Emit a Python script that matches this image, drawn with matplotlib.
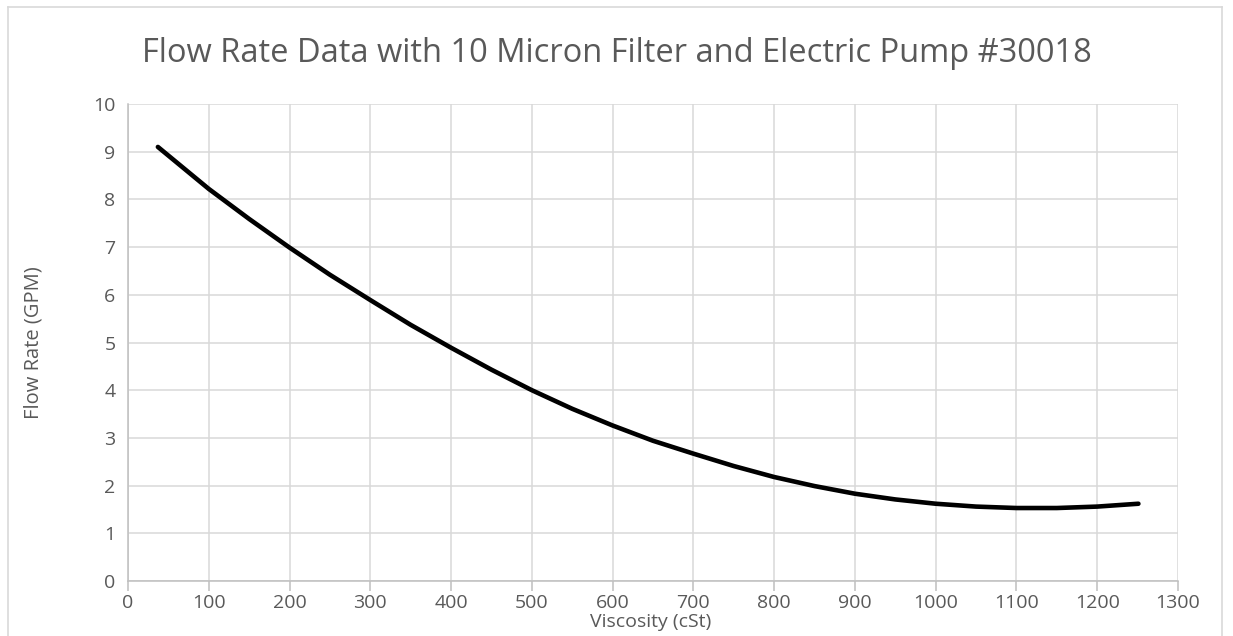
import matplotlib
matplotlib.use("Agg")
import matplotlib.pyplot as plt
from matplotlib.lines import Line2D

# values
viscosity = [37, 100, 150, 200, 250, 300, 350, 400, 450, 500, 550, 600, 650,
             700, 750, 800, 850, 900, 950, 1000, 1050, 1100, 1150, 1200, 1251]
flow_rate = [9.10, 8.22, 7.59, 6.99, 6.42, 5.89, 5.37, 4.89, 4.43, 4.00, 3.61,
             3.26, 2.94, 2.67, 2.41, 2.18, 1.99, 1.83, 1.71, 1.62, 1.56, 1.53,
             1.53, 1.56, 1.62]
x_ticks = list(range(0, 1301, 100))
y_ticks = list(range(0, 11))

title = "Flow Rate Data with 10 Micron Filter and Electric Pump #30018"
text_col = "#595959"
grid_col = "#d9d9d9"
axis_col = "#bfbfbf"

plt.rcParams["font.family"] = ["Open Sans", "DejaVu Sans"]

fig = plt.figure(figsize=(12.33, 6.36), dpi=100)
ax = fig.add_axes([128 / 1233, 1 - 581 / 636, (1178 - 128) / 1233, (581 - 104) / 636])

ax.plot(viscosity, flow_rate, color="black", lw=3.3, solid_capstyle="round",
        solid_joinstyle="round", zorder=3)

ax.set_xlim(0, 1300)
ax.set_ylim(0, 10)
ax.set_xticks(x_ticks)
ax.set_yticks(y_ticks)
ax.grid(True, color=grid_col, lw=1.1)
ax.set_axisbelow(True)

for s in ["top", "right"]:
    ax.spines[s].set_visible(False)
for s in ["left", "bottom"]:
    ax.spines[s].set_color(axis_col)
    ax.spines[s].set_linewidth(1.1)

ax.tick_params(axis="x", direction="out", length=7, width=1.1, color=axis_col,
               labelsize=14, labelcolor=text_col, pad=2)
ax.tick_params(axis="y", length=0, labelsize=14, labelcolor=text_col, pad=9)

ax.set_ylabel("Flow Rate (GPM)", fontsize=14.5, color=text_col, va="center")
ax.yaxis.set_label_coords((34 - 128) / (1178 - 128), 0.5)

fig.text(651 / 1233, 1 - 622 / 636, "Viscosity (cSt)", ha="center", va="center",
         fontsize=14, color=text_col)

fig.text(0.5, 1 - 54 / 636, title, ha="center", va="center", fontsize=23.5,
         color=text_col)

# chart area border
for xs, ys in [([8, 1222], [629, 629]), ([8, 8], [0, 629]), ([1222, 1222], [0, 629])]:
    fig.add_artist(Line2D([x / 1233 for x in xs], [y / 636 for y in ys],
                          color=grid_col, lw=1.2))

fig.savefig("out.png", dpi=100)
